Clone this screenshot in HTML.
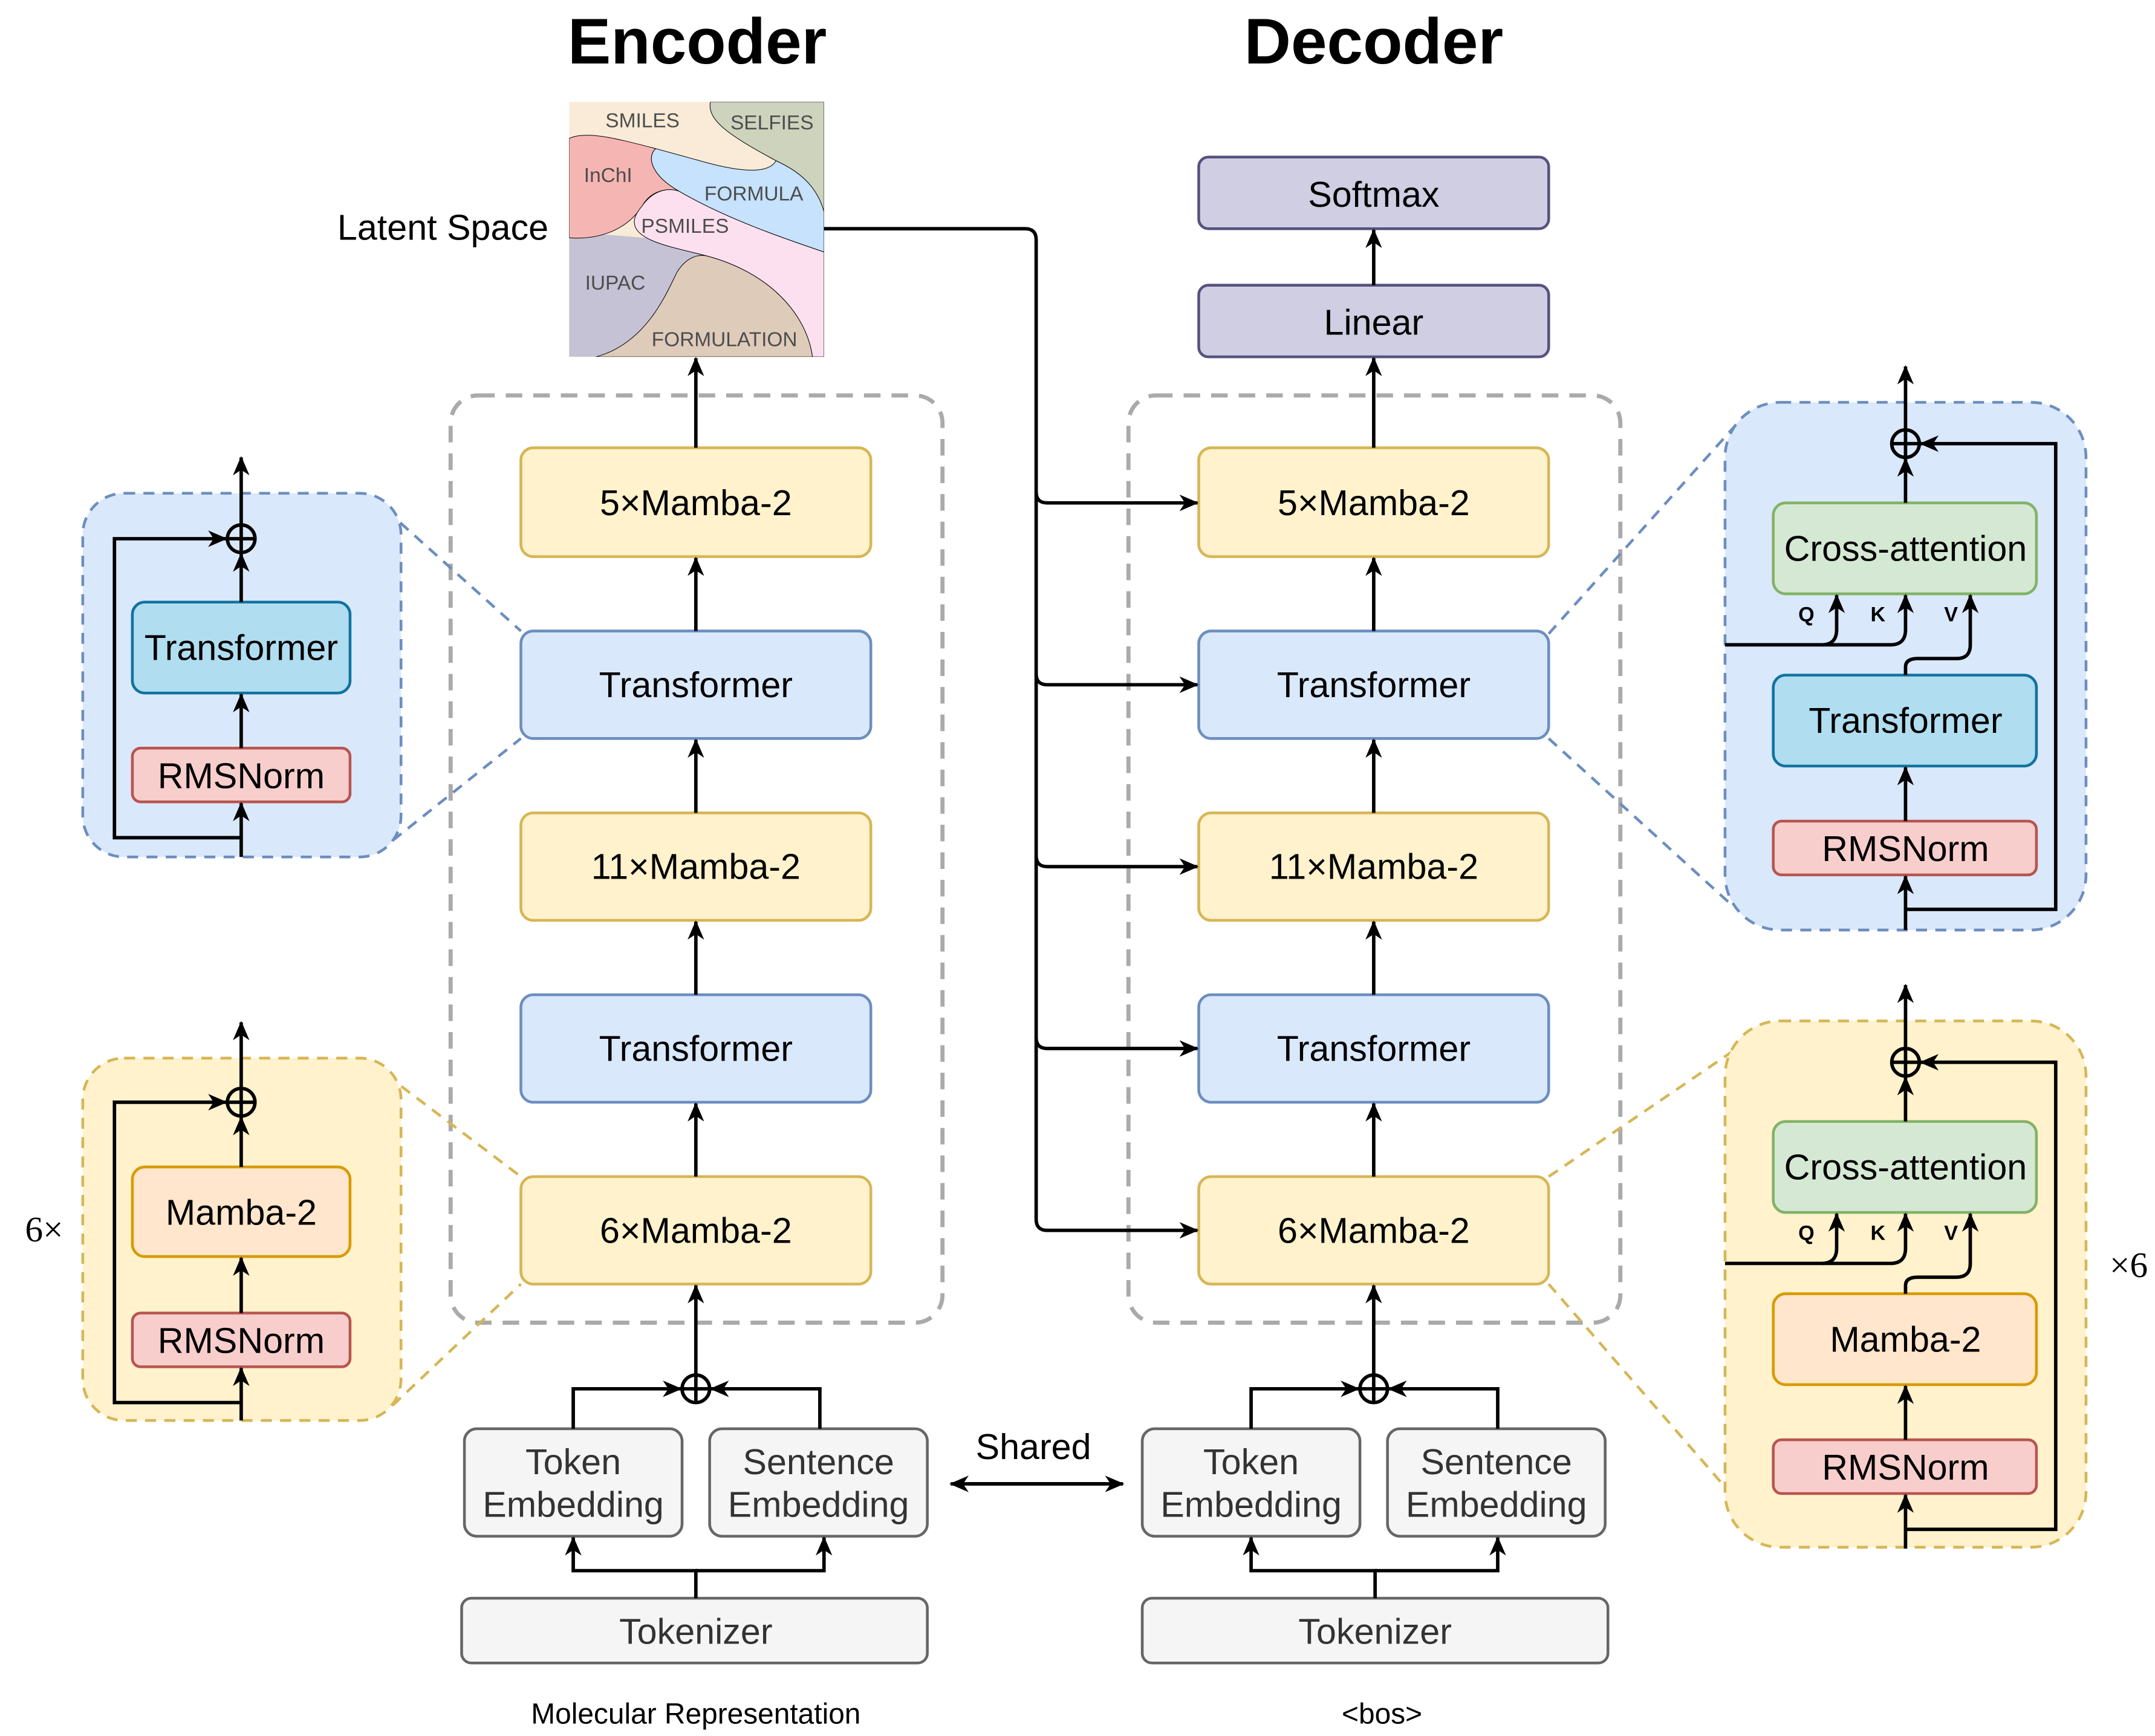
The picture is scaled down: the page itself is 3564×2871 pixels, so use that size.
<!DOCTYPE html>
<html><head><meta charset="utf-8"><style>html,body{margin:0;padding:0;background:#fff}svg{display:block}</style></head><body>
<svg xmlns="http://www.w3.org/2000/svg" width="3564" height="2871" viewBox="0 0 1564 1260" font-family="Liberation Sans, sans-serif">
<defs>
<marker id="a" markerUnits="userSpaceOnUse" markerWidth="14" markerHeight="14" viewBox="0 0 14 14" refX="13" refY="7" orient="auto"><path d="M0,1 L14,7 L0,13 L4,7 Z" fill="#000"/></marker>
</defs>
<g font-weight="bold" font-size="47" text-anchor="middle"><text x="506" y="46">Encoder</text><text x="997" y="46">Decoder</text></g>

<!-- latent space -->
<svg x="413" y="74" width="185" height="185" viewBox="117 60 1260 1257" preserveAspectRatio="none">
<rect x="117" y="60" width="1260" height="1257" fill="#f9ebd7"/>
<path d="M117,700 L117,1317 L1377,1317 L1377,800 Z" fill="#c5c2d5"/>
<path d="M815,60 C800,150 900,220 1140,350 C1300,450 1360,550 1377,600 L1377,60 Z" fill="#cdd3bd" stroke="#000" stroke-width="3"/>
<path d="M545,290 C500,330 520,420 660,500 C900,640 1200,740 1377,800 L1377,600 C1340,470 1250,400 1140,350 C1100,420 950,400 800,360 Z" fill="#c6e2fd" stroke="#000" stroke-width="3"/>
<path d="M117,240 C200,200 350,240 545,290 C500,330 520,420 660,500 C600,480 520,500 480,570 C400,700 250,740 117,730 Z" fill="#f5b5b3" stroke="#000" stroke-width="3"/>
<path d="M480,570 C530,500 600,480 660,500 C900,640 1200,740 1377,800 L1377,1317 L1320,1317 C1290,1100 1100,900 800,820 C650,780 450,750 440,660 C435,630 455,600 480,570 Z" fill="#fde0ef" stroke="#000" stroke-width="3"/>
<path d="M250,1317 C500,1250 600,1000 650,900 C700,820 760,810 800,820 C1100,900 1290,1100 1320,1317 Z" fill="#dfcbba" stroke="#000" stroke-width="3"/>
<g fill="#4d4d4d" font-size="100" text-anchor="middle">
<text x="480" y="185">SMILES</text><text x="1120" y="195">SELFIES</text><text x="310" y="455">InChI</text><text x="1030" y="545">FORMULA</text><text x="690" y="705">PSMILES</text><text x="345" y="985">IUPAC</text><text x="885" y="1265">FORMULATION</text></g>
</svg>
<text x="398" y="174" font-size="26" text-anchor="end">Latent Space</text>

<!-- dashed containers -->
<rect x="327" y="287" width="357" height="673" rx="20" fill="none" stroke="#aaa" stroke-width="3" stroke-dasharray="12,8"/>
<rect x="819" y="287" width="357" height="673" rx="20" fill="none" stroke="#aaa" stroke-width="3" stroke-dasharray="12,8"/>

<!-- zoom dashed lines -->
<g fill="none" stroke-width="2" stroke-dasharray="8,6">
<path d="M280,370 L378,458 M285,610 L378,536 M1124,460 L1262,306 M1124,536 L1257,657" stroke="#6c8ebf"/>
<path d="M280,780 L378,854 M285,1020 L378,932 M1124,854 L1262,760 M1124,932 L1257,1085" stroke="#d6b656"/>
</g>

<g font-size="26" text-anchor="middle" stroke-width="2">
<g>
<rect x="378" y="325" width="254" height="79" rx="9" fill="#fff2cc" stroke="#d6b656"/><text x="505" y="374">5×Mamba-2</text>
<rect x="378" y="458" width="254" height="78" rx="9" fill="#dae8fc" stroke="#6c8ebf"/><text x="505" y="506">Transformer</text>
<rect x="378" y="590" width="254" height="78" rx="9" fill="#fff2cc" stroke="#d6b656"/><text x="505" y="638">11×Mamba-2</text>
<rect x="378" y="722" width="254" height="78" rx="9" fill="#dae8fc" stroke="#6c8ebf"/><text x="505" y="770">Transformer</text>
<rect x="378" y="854" width="254" height="78" rx="9" fill="#fff2cc" stroke="#d6b656"/><text x="505" y="902">6×Mamba-2</text>
<rect x="337" y="1037" width="158" height="78" rx="9" fill="#f5f5f5" stroke="#666"/><text x="416" y="1070" fill="#333">Token</text><text x="416" y="1101" fill="#333">Embedding</text>
<rect x="515" y="1037" width="158" height="78" rx="9" fill="#f5f5f5" stroke="#666"/><text x="594" y="1070" fill="#333">Sentence</text><text x="594" y="1101" fill="#333">Embedding</text>
<rect x="335" y="1160" width="338" height="47" rx="7" fill="#f5f5f5" stroke="#666"/><text x="505" y="1193" fill="#333">Tokenizer</text>
</g>
<g>
<rect x="870" y="114" width="254" height="52" rx="7" fill="#d0cee2" stroke="#56517e"/><text x="997" y="150">Softmax</text>
<rect x="870" y="207" width="254" height="52" rx="7" fill="#d0cee2" stroke="#56517e"/><text x="997" y="243">Linear</text>
<rect x="870" y="325" width="254" height="79" rx="9" fill="#fff2cc" stroke="#d6b656"/><text x="997" y="374">5×Mamba-2</text>
<rect x="870" y="458" width="254" height="78" rx="9" fill="#dae8fc" stroke="#6c8ebf"/><text x="997" y="506">Transformer</text>
<rect x="870" y="590" width="254" height="78" rx="9" fill="#fff2cc" stroke="#d6b656"/><text x="997" y="638">11×Mamba-2</text>
<rect x="870" y="722" width="254" height="78" rx="9" fill="#dae8fc" stroke="#6c8ebf"/><text x="997" y="770">Transformer</text>
<rect x="870" y="854" width="254" height="78" rx="9" fill="#fff2cc" stroke="#d6b656"/><text x="997" y="902">6×Mamba-2</text>
<rect x="829" y="1037" width="158" height="78" rx="9" fill="#f5f5f5" stroke="#666"/><text x="908" y="1070" fill="#333">Token</text><text x="908" y="1101" fill="#333">Embedding</text>
<rect x="1007" y="1037" width="158" height="78" rx="9" fill="#f5f5f5" stroke="#666"/><text x="1086" y="1070" fill="#333">Sentence</text><text x="1086" y="1101" fill="#333">Embedding</text>
<rect x="829" y="1160" width="338" height="47" rx="7" fill="#f5f5f5" stroke="#666"/><text x="998" y="1193" fill="#333">Tokenizer</text>
</g>
</g>

<g fill="none" stroke="#000" stroke-width="2.5">
<path d="M505,325 V260" marker-end="url(#a)"/>
<path d="M505,458 V405" marker-end="url(#a)"/><path d="M505,590 V537" marker-end="url(#a)"/><path d="M505,722 V669" marker-end="url(#a)"/><path d="M505,854 V801" marker-end="url(#a)"/>
<path d="M505,998 V933" marker-end="url(#a)"/>
<circle cx="505" cy="1008" r="10"/><path d="M495,1008 H515 M505,998 V1018"/>
<path d="M416,1037 V1008 H494" marker-end="url(#a)"/><path d="M595,1037 V1008 H516" marker-end="url(#a)"/>
<path d="M505,1160 V1140 H416 V1116" marker-end="url(#a)"/><path d="M505,1140 H598 V1116" marker-end="url(#a)"/>

<path d="M997,207 V167" marker-end="url(#a)"/><path d="M997,325 V260" marker-end="url(#a)"/>
<path d="M997,458 V405" marker-end="url(#a)"/><path d="M997,590 V537" marker-end="url(#a)"/><path d="M997,722 V669" marker-end="url(#a)"/><path d="M997,854 V801" marker-end="url(#a)"/>
<path d="M997,998 V933" marker-end="url(#a)"/>
<circle cx="997" cy="1008" r="10"/><path d="M987,1008 H1007 M997,998 V1018"/>
<path d="M908,1037 V1008 H986" marker-end="url(#a)"/><path d="M1087,1037 V1008 H1008" marker-end="url(#a)"/>
<path d="M998,1160 V1140 H908 V1116" marker-end="url(#a)"/><path d="M998,1140 H1087 V1116" marker-end="url(#a)"/>

<path d="M598,166 H744 Q752,166 752,174 V885 Q752,893 760,893 H869" marker-end="url(#a)"/>
<path d="M752,357 Q752,365 760,365 H869" marker-end="url(#a)"/>
<path d="M752,489 Q752,497 760,497 H869" marker-end="url(#a)"/>
<path d="M752,621 Q752,629 760,629 H869" marker-end="url(#a)"/>
<path d="M752,753 Q752,761 760,761 H869" marker-end="url(#a)"/>
<path d="M703,1077 H815" marker-end="url(#a)"/><path d="M803,1077 H690" marker-end="url(#a)"/>
</g>
<text x="750" y="1059" font-size="26" text-anchor="middle">Shared</text>
<text x="505" y="1251" font-size="21" text-anchor="middle">Molecular Representation</text>
<text x="1003" y="1251" font-size="21" text-anchor="middle">&lt;bos&gt;</text>

<rect x="60" y="358" width="231" height="264" rx="30" fill="#dae8fc" stroke="#6c8ebf" stroke-width="2" stroke-dasharray="8,6"/>
<rect x="60" y="768" width="231" height="263" rx="30" fill="#fff2cc" stroke="#d6b656" stroke-width="2" stroke-dasharray="8,6"/>
<g font-size="26" text-anchor="middle" stroke-width="2">
<rect x="96" y="437" width="158" height="66" rx="9" fill="#b1ddf0" stroke="#10739e"/><text x="175" y="479">Transformer</text>
<rect x="96" y="543" width="158" height="39" rx="6" fill="#f8cecc" stroke="#b85450"/><text x="175" y="572">RMSNorm</text>
<rect x="96" y="847" width="158" height="65" rx="9" fill="#ffe6cc" stroke="#d79b00"/><text x="175" y="889">Mamba-2</text>
<rect x="96" y="953" width="158" height="39" rx="6" fill="#f8cecc" stroke="#b85450"/><text x="175" y="982">RMSNorm</text>
</g>
<g fill="none" stroke="#000" stroke-width="2.5">
<path d="M175,622 V583" marker-end="url(#a)"/><path d="M175,608 H83 V391 H164" marker-end="url(#a)"/>
<path d="M175,543 V504" marker-end="url(#a)"/><path d="M175,437 V402" marker-end="url(#a)"/>
<circle cx="175" cy="391" r="10"/><path d="M165,391 H185 M175,381 V401"/><path d="M175,381 V332" marker-end="url(#a)"/>
<path d="M175,1031 V993" marker-end="url(#a)"/><path d="M175,1018 H83 V800 H164" marker-end="url(#a)"/>
<path d="M175,953 V913" marker-end="url(#a)"/><path d="M175,847 V811" marker-end="url(#a)"/>
<circle cx="175" cy="800" r="10"/><path d="M165,800 H185 M175,790 V810"/><path d="M175,790 V742" marker-end="url(#a)"/>
</g>
<text x="32" y="901" font-size="26" font-family="Liberation Serif, serif" text-anchor="middle">6×</text>

<rect x="1252" y="292" width="262" height="383" rx="40" fill="#dae8fc" stroke="#6c8ebf" stroke-width="2" stroke-dasharray="8,6"/>
<rect x="1252" y="741" width="262" height="382" rx="40" fill="#fff2cc" stroke="#d6b656" stroke-width="2" stroke-dasharray="8,6"/>
<g font-size="26" text-anchor="middle" stroke-width="2">
<rect x="1287" y="365" width="191" height="66" rx="9" fill="#d5e8d4" stroke="#82b366"/><text x="1383" y="407">Cross-attention</text>
<rect x="1287" y="490" width="191" height="66" rx="9" fill="#b1ddf0" stroke="#10739e"/><text x="1383" y="532">Transformer</text>
<rect x="1287" y="596" width="191" height="39" rx="6" fill="#f8cecc" stroke="#b85450"/><text x="1383" y="625">RMSNorm</text>
<rect x="1287" y="814" width="191" height="66" rx="9" fill="#d5e8d4" stroke="#82b366"/><text x="1383" y="856">Cross-attention</text>
<rect x="1287" y="939" width="191" height="66" rx="9" fill="#ffe6cc" stroke="#d79b00"/><text x="1383" y="981">Mamba-2</text>
<rect x="1287" y="1045" width="191" height="39" rx="6" fill="#f8cecc" stroke="#b85450"/><text x="1383" y="1074">RMSNorm</text>
</g>
<g fill="none" stroke="#000" stroke-width="2.5">
<path d="M1383,675 V636" marker-end="url(#a)"/><path d="M1383,660 H1492 V322 H1394" marker-end="url(#a)"/>
<path d="M1383,596 V557" marker-end="url(#a)"/>
<path d="M1252,468 H1322 Q1333,468 1333,457 V432" marker-end="url(#a)"/>
<path d="M1322,468 H1372 Q1383,468 1383,457 V432" marker-end="url(#a)"/>
<path d="M1383,490 V484 Q1383,478 1392,478 H1420 Q1430,478 1430,468 V432" marker-end="url(#a)"/>
<path d="M1383,365 V333" marker-end="url(#a)"/>
<circle cx="1383" cy="322" r="10"/><path d="M1373,322 H1393 M1383,312 V332"/><path d="M1383,312 V266" marker-end="url(#a)"/>

<path d="M1383,1124 V1085" marker-end="url(#a)"/><path d="M1383,1110 H1492 V771 H1394" marker-end="url(#a)"/>
<path d="M1383,1045 V1006" marker-end="url(#a)"/>
<path d="M1252,917 H1322 Q1333,917 1333,906 V881" marker-end="url(#a)"/>
<path d="M1322,917 H1372 Q1383,917 1383,906 V881" marker-end="url(#a)"/>
<path d="M1383,939 V933 Q1383,927 1392,927 H1420 Q1430,927 1430,917 V881" marker-end="url(#a)"/>
<path d="M1383,814 V782" marker-end="url(#a)"/>
<circle cx="1383" cy="771" r="10"/><path d="M1373,771 H1393 M1383,761 V781"/><path d="M1383,761 V715" marker-end="url(#a)"/>
</g>
<g font-size="15" font-weight="bold" text-anchor="middle">
<text x="1311" y="451">Q</text><text x="1363" y="451">K</text><text x="1416" y="451">V</text>
<text x="1311" y="900">Q</text><text x="1363" y="900">K</text><text x="1416" y="900">V</text>
</g>
<text x="1545" y="927" font-size="26" font-family="Liberation Serif, serif" text-anchor="middle">×6</text>
</svg>
</body></html>
